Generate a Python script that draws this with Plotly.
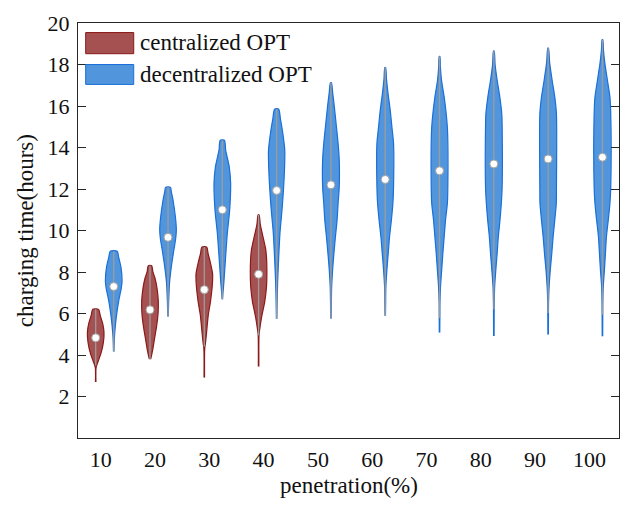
import plotly.graph_objects as go

# ---------------- data ----------------
categories = ["10", "20", "30", "40", "50", "60", "70", "80", "90", "100"]

# centralized OPT (first four categories)
cen_median = [4.83, 6.18, 7.15, 7.89]
cen_whisk_lo = [3.5, 3.8, 4.4, 4.95]
cen_prof_y = [
    [2.7, 3.4, 3.7, 4.1, 4.6, 5.1, 5.5, 5.9, 6.2],
    [3.8, 4.2, 4.8, 5.4, 6.0, 6.6, 7.2, 7.7, 8.0, 8.3],
    [2.92, 4.3, 4.6, 5.2, 5.9, 6.6, 7.3, 7.9, 8.5, 8.9, 9.2],
    [3.45, 4.95, 5.2, 5.8, 6.6, 7.3, 8.0, 8.7, 9.1, 9.8, 10.3, 10.75],
]
cen_prof_d = [
    [0.03, 0.05, 0.3, 0.65, 0.92, 1.0, 0.85, 0.55, 0.35],
    [0.08, 0.3, 0.55, 0.8, 0.97, 1.0, 0.85, 0.6, 0.35, 0.2],
    [0.03, 0.05, 0.15, 0.3, 0.47, 0.75, 0.95, 1.0, 0.7, 0.45, 0.3],
    [0.03, 0.05, 0.12, 0.35, 0.75, 0.95, 1.0, 0.95, 0.85, 0.47, 0.2, 0.06],
]

# decentralized OPT (all categories)
dec_median = [7.3, 9.67, 11.0, 11.93, 12.2, 12.46, 12.88, 13.21, 13.45, 13.53]
dec_whisk_lo = [4.17, 5.86, 6.69, 5.75, 5.76, 5.89, 5.78, 6.21, 6.02, 5.94]
dec_prof_y = [
    [4.17, 4.6, 5.07, 5.86, 6.66, 7.2, 7.54, 8.26, 8.7, 9.0],
    [5.86, 6.6, 7.47, 8.26, 9.06, 9.6, 10.02, 10.6, 11.47, 11.9, 12.08],
    [6.69, 7.0, 7.47, 8.58, 9.87, 10.98, 12.28, 13.07, 13.87, 14.35],
    [5.75, 6.5, 7.5, 8.26, 9.87, 11.0, 11.95, 13.0, 13.87, 14.8, 15.4, 15.85],
    [5.76, 6.5, 7.3, 8.1, 8.9, 9.7, 10.5, 11.3, 12.1, 13.4, 14.2, 15.0, 16.0, 16.6, 17.12],
    [5.89, 6.5, 7.3, 8.1, 8.9, 9.7, 10.5, 11.3, 12.1, 14.2, 15.0, 15.8, 16.6, 17.3, 17.85],
    [5.09, 5.8, 6.5, 7.3, 8.1, 8.9, 9.7, 10.5, 11.3, 12.1, 14.83, 15.63, 16.43, 17.24, 17.9, 18.39],
    [4.91, 6.2, 6.5, 7.3, 8.1, 8.9, 9.7, 10.5, 11.3, 12.1, 15.0, 15.6, 16.43, 17.24, 18.0, 18.65],
    [4.99, 6.0, 6.5, 7.3, 8.1, 8.9, 9.7, 10.5, 11.3, 12.1, 15.6, 16.43, 17.24, 18.1, 18.79],
    [4.9, 5.94, 6.5, 7.3, 8.1, 8.9, 9.7, 10.5, 11.3, 12.1, 15.6, 16.43, 17.24, 18.04, 18.7, 19.19],
]
dec_prof_d = [
    [0.03, 0.06, 0.12, 0.32, 0.62, 0.9, 1.0, 0.86, 0.6, 0.42],
    [0.03, 0.08, 0.18, 0.4, 0.7, 0.92, 1.0, 0.9, 0.6, 0.38, 0.3],
    [0.03, 0.08, 0.18, 0.37, 0.6, 0.88, 1.0, 0.83, 0.4, 0.25],
    [0.03, 0.06, 0.12, 0.2, 0.4, 0.65, 0.82, 0.95, 0.98, 0.7, 0.45, 0.25],
    [0.03, 0.05, 0.09, 0.2, 0.36, 0.54, 0.74, 0.86, 1.0, 1.0, 0.86, 0.66, 0.4, 0.22, 0.06],
    [0.03, 0.05, 0.08, 0.2, 0.36, 0.52, 0.74, 0.92, 1.0, 1.0, 0.8, 0.6, 0.34, 0.15, 0.05],
    [0.03, 0.04, 0.05, 0.12, 0.26, 0.4, 0.56, 0.72, 0.94, 1.0, 0.96, 0.8, 0.56, 0.24, 0.1, 0.04],
    [0.03, 0.04, 0.05, 0.1, 0.24, 0.4, 0.54, 0.74, 0.9, 1.0, 1.0, 0.96, 0.72, 0.4, 0.15, 0.04],
    [0.03, 0.04, 0.05, 0.12, 0.26, 0.44, 0.6, 0.8, 0.98, 1.0, 1.0, 0.8, 0.48, 0.18, 0.04],
    [0.03, 0.04, 0.05, 0.1, 0.24, 0.36, 0.48, 0.7, 0.9, 1.0, 1.0, 0.9, 0.6, 0.3, 0.12, 0.04],
]

# ---------------- style ----------------
FONT = "Liberation Serif"
RED_FILL, RED_EDGE = "#A65151", "#8A1A1A"
BLUE_FILL, BLUE_EDGE = "#5196DD", "#1A6FD8"
HALF_W = 0.153          # max half width of a violin (x units)
OFF_CEN, OFF_DEC = -0.092, 0.24

fig = go.Figure()


def add_violins(offset, prof_y, prof_d, fill, edge):
    for i, (ys, ds) in enumerate(zip(prof_y, prof_d)):
        c = i + offset
        xs = [c + d * HALF_W for d in ds] + [c - d * HALF_W for d in reversed(ds)]
        yy = list(ys) + list(reversed(ys))
        fig.add_trace(go.Scatter(
            x=xs, y=yy, mode="lines", fill="toself", fillcolor=fill,
            line=dict(color=edge, width=1.2, shape="spline", smoothing=0.7),
            hoverinfo="skip", showlegend=False))


def add_whiskers(offset, lo, prof_y):
    for i, (l, ys) in enumerate(zip(lo, prof_y)):
        c = i + offset
        fig.add_trace(go.Scatter(
            x=[c, c], y=[l, ys[-1]], mode="lines",
            line=dict(color="#9C9C9C", width=1.3),
            hoverinfo="skip", showlegend=False))


def add_medians(offset, med):
    fig.add_trace(go.Scatter(
        x=[i + offset for i in range(len(med))], y=med, mode="markers",
        marker=dict(size=8, color="white", line=dict(color="#A0A0A0", width=1)),
        hoverinfo="skip", showlegend=False))


add_violins(OFF_CEN, cen_prof_y, cen_prof_d, RED_FILL, RED_EDGE)
add_violins(OFF_DEC, dec_prof_y, dec_prof_d, BLUE_FILL, BLUE_EDGE)
add_whiskers(OFF_CEN, cen_whisk_lo, cen_prof_y)
add_whiskers(OFF_DEC, dec_whisk_lo, dec_prof_y)
add_medians(OFF_CEN, cen_median)
add_medians(OFF_DEC, dec_median)

AX = "#262626"
TXT = 23
# the page body has an 8px margin, so the figure is sized to fit inside it
fig.update_layout(
    width=613, height=491,
    margin=dict(l=70.3, r=1.7, t=14.5, b=60.5, autoexpand=False),
    paper_bgcolor="white", plot_bgcolor="white",
    font=dict(family=FONT, size=22, color="#111111"),
    showlegend=False,
    xaxis=dict(range=[-0.418, 9.545], tickvals=list(range(len(categories))),
               ticktext=categories, ticks="", showgrid=False, zeroline=False,
               showline=True, linecolor=AX, linewidth=1, mirror=True,
               ticklabelstandoff=2),
    yaxis=dict(range=[0, 20], tickvals=list(range(2, 21, 2)), ticks="inside",
               ticklen=8, tickcolor=AX, tickwidth=1, showgrid=False,
               zeroline=False, showline=True, linecolor=AX, linewidth=1,
               mirror="ticks", ticklabelstandoff=3),
)

# axis titles
fig.add_annotation(text="penetration(%)", xref="paper", yref="paper",
                   x=0.5, y=-0.114, xanchor="center", yanchor="middle",
                   showarrow=False, font=dict(size=TXT))
fig.add_annotation(text="charging time(hours)", xref="paper", yref="paper",
                   x=-0.0967, y=0.5, xanchor="center", yanchor="middle",
                   textangle=-90, showarrow=False, font=dict(size=TXT))

# legend (drawn manually)
legend_items = [("centralized OPT", RED_FILL, RED_EDGE, 0.926, 0.977, 0.952),
                ("decentralized OPT", BLUE_FILL, BLUE_EDGE, 0.852, 0.900, 0.876)]
for label, fc, ec, y0, y1, yt in legend_items:
    fig.add_shape(type="rect", xref="paper", yref="paper", x0=0.0142, x1=0.103,
                  y0=y0, y1=y1, fillcolor=fc, line=dict(color=ec, width=1))
    fig.add_annotation(text=label, xref="paper", yref="paper", x=0.111, y=yt,
                       xanchor="left", yanchor="middle", showarrow=False,
                       font=dict(size=TXT))

fig.write_html("out.html")
